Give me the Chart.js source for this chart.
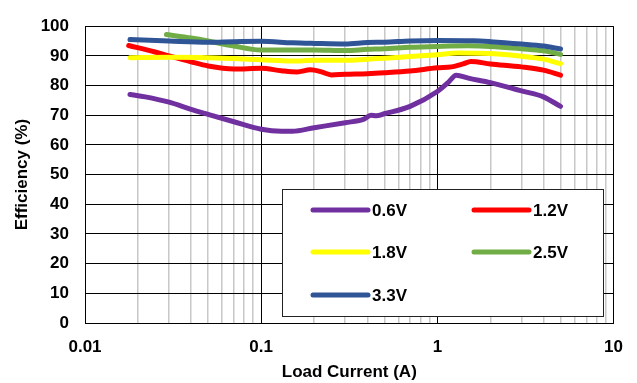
<!DOCTYPE html>
<html>
<head>
<meta charset="utf-8">
<script src="https://cdn.jsdelivr.net/npm/chart.js@4/dist/chart.umd.min.js"></script>
<style>
  html, body { margin: 0; padding: 0; background: #fff; }
  #wrap { width: 637px; height: 383px; }
</style>
</head>
<body>
<div id="wrap"><canvas id="c" width="637" height="383"></canvas></div>
<script>
// Efficiency vs. load current for each output voltage
const seriesNames = ['0.6V', '1.2V', '1.8V', '2.5V', '3.3V'];
const seriesColors = ['#7030A0', '#FF0000', '#FFFF00', '#70AD47', '#2F5597'];

const i06 = [0.018, 0.022, 0.03, 0.04, 0.05, 0.07, 0.1, 0.13, 0.15, 0.2, 0.3, 0.38, 0.42, 0.45, 0.5, 0.7, 1.0, 1.15, 1.28, 1.5, 2.0, 3.0, 4.0, 5.0];
const e06 = [77.0, 76.2, 74.4, 72.0, 70.3, 67.8, 65.3, 64.6, 64.6, 65.8, 67.5, 68.6, 70.0, 69.8, 70.5, 73.0, 78.0, 81.0, 83.5, 82.5, 81.0, 78.2, 76.2, 73.0];

const i12 = [0.0177, 0.025, 0.03, 0.04, 0.05, 0.07, 0.1, 0.13, 0.16, 0.19, 0.22, 0.25, 0.3, 0.4, 0.5, 0.7, 1.0, 1.2, 1.4, 1.55, 2.0, 3.0, 4.0, 5.0];
const e12 = [93.5, 91.3, 90.0, 88.0, 86.6, 85.6, 85.8, 85.0, 84.6, 85.3, 84.6, 83.6, 83.8, 84.0, 84.3, 84.9, 86.0, 86.3, 87.3, 88.1, 87.3, 86.3, 85.2, 83.5];

const i18 = [0.018, 0.03, 0.05, 0.07, 0.1, 0.15, 0.2, 0.3, 0.4, 0.5, 0.7, 1.0, 1.3, 2.0, 3.0, 4.0, 5.0];
const e18 = [89.4, 89.5, 89.4, 89.1, 88.7, 88.3, 88.5, 88.5, 88.9, 89.2, 89.8, 90.4, 91.0, 90.8, 89.9, 88.9, 87.4];

const i25 = [0.029, 0.04, 0.05, 0.07, 0.1, 0.15, 0.2, 0.3, 0.4, 0.5, 0.7, 1.0, 1.5, 2.0, 3.0, 4.0, 5.0];
const e25 = [97.2, 96.0, 95.0, 93.3, 92.0, 92.0, 92.0, 91.8, 92.2, 92.4, 92.9, 93.2, 93.4, 93.2, 92.4, 91.7, 90.5];

const i33 = [0.018, 0.03, 0.05, 0.07, 0.1, 0.15, 0.2, 0.3, 0.4, 0.5, 0.7, 1.0, 1.6, 2.0, 3.0, 4.0, 5.0];
const e33 = [95.5, 95.0, 94.6, 94.8, 94.9, 94.4, 94.2, 94.0, 94.5, 94.6, 95.0, 95.2, 95.1, 94.8, 94.0, 93.3, 92.3];

const xDecades = [0.01, 0.1, 1, 10];
const xTickLabels = ['0.01', '0.1', '1', '10'];

const currents = [i06, i12, i18, i25, i33];
const effs = [e06, e12, e18, e25, e33];

const FONT = "'Liberation Sans', Arial, sans-serif";
const FS = 17;

function isDecade(v) {
  const l = Math.log10(v);
  return Math.abs(l - Math.round(l)) < 1e-6;
}

const datasets = seriesNames.map((name, k) => ({
  label: name,
  data: currents[k].map((x, j) => ({ x: x, y: effs[k][j] })),
  borderColor: seriesColors[k],
  backgroundColor: seriesColors[k],
  borderWidth: 5,
  borderCapStyle: 'round',
  borderJoinStyle: 'round',
  pointRadius: 0,
  fill: false,
  cubicInterpolationMode: 'monotone',
  order: seriesNames.length - 1 - k
}));

// Boxed legend drawn inside the plot area
const boxLegend = {
  id: 'boxLegend',
  afterDraw(chart) {
    const ctx = chart.ctx;
    const left = 282.5, top = 189.5, right = 603.5, bottom = 316.5;
    ctx.save();
    ctx.fillStyle = '#fff';
    ctx.fillRect(left, top, right - left, bottom - top);
    ctx.strokeStyle = '#222';
    ctx.lineWidth = 1;
    ctx.strokeRect(left, top, right - left, bottom - top);
    const cols = [313, 474];
    const rows = [210, 252, 295];
    ctx.font = 'bold ' + FS + 'px ' + FONT;
    ctx.textBaseline = 'middle';
    ctx.textAlign = 'left';
    chart.data.datasets.forEach((ds, k) => {
      const cx = cols[k % 2];
      const cy = rows[Math.floor(k / 2)];
      ctx.strokeStyle = ds.borderColor;
      ctx.lineWidth = 5;
      ctx.lineCap = 'round';
      ctx.beginPath();
      ctx.moveTo(cx, cy);
      ctx.lineTo(cx + 55, cy);
      ctx.stroke();
      ctx.fillStyle = '#000';
      ctx.fillText(ds.label, cx + 59, cy + 1);
    });
    ctx.restore();
  }
};

new Chart(document.getElementById('c'), {
  type: 'line',
  data: { datasets: datasets },
  options: {
    responsive: false,
    devicePixelRatio: 1,
    animation: false,
    layout: { padding: { top: 18, right: 20, left: 0, bottom: 0 } },
    plugins: { legend: { display: false }, tooltip: { enabled: false } },
    scales: {
      x: {
        type: 'logarithmic',
        min: 0.01,
        max: 10,
        afterBuildTicks(scale) {
          const t = [];
          for (let d = -2; d <= 0; d++) {
            for (let m = 1; m <= 9; m++) t.push({ value: +(m * Math.pow(10, d)).toPrecision(6) });
          }
          t.push({ value: 10 });
          scale.ticks = t;
        },
        afterFit(scale) { scale.height = 60; },
        ticks: {
          autoSkip: false,
          maxRotation: 0,
          padding: 14,
          color: '#000',
          font: { family: FONT, size: FS, weight: 'bold' },
          callback(value) {
            const idx = xDecades.findIndex(d => Math.abs(d - value) < 1e-9);
            return idx >= 0 ? xTickLabels[idx] : '';
          }
        },
        grid: {
          drawTicks: false,
          color: ctx => (ctx.tick && isDecade(ctx.tick.value)) ? '#000' : '#c8c8c8',
          lineWidth: ctx => (ctx.tick && isDecade(ctx.tick.value)) ? 1 : 1.5
        },
        border: { display: true, color: '#000', width: 1 },
        title: {
          display: true,
          text: 'Load Current (A)',
          color: '#000',
          font: { family: FONT, size: FS, weight: 'bold' },
          padding: { top: 1, bottom: 0 }
        }
      },
      y: {
        min: 0,
        max: 100,
        afterFit(scale) { scale.width = 85; },
        ticks: {
          stepSize: 10,
          padding: 16,
          color: '#000',
          font: { family: FONT, size: FS, weight: 'bold' }
        },
        grid: { drawTicks: false, color: '#000', lineWidth: 1 },
        border: { display: true, color: '#000', width: 1 },
        title: {
          display: true,
          text: 'Efficiency (%)',
          color: '#000',
          font: { family: FONT, size: FS, weight: 'bold' },
          padding: { top: 12, bottom: 0 }
        }
      }
    }
  },
  plugins: [boxLegend]
});
</script>
</body>
</html>
